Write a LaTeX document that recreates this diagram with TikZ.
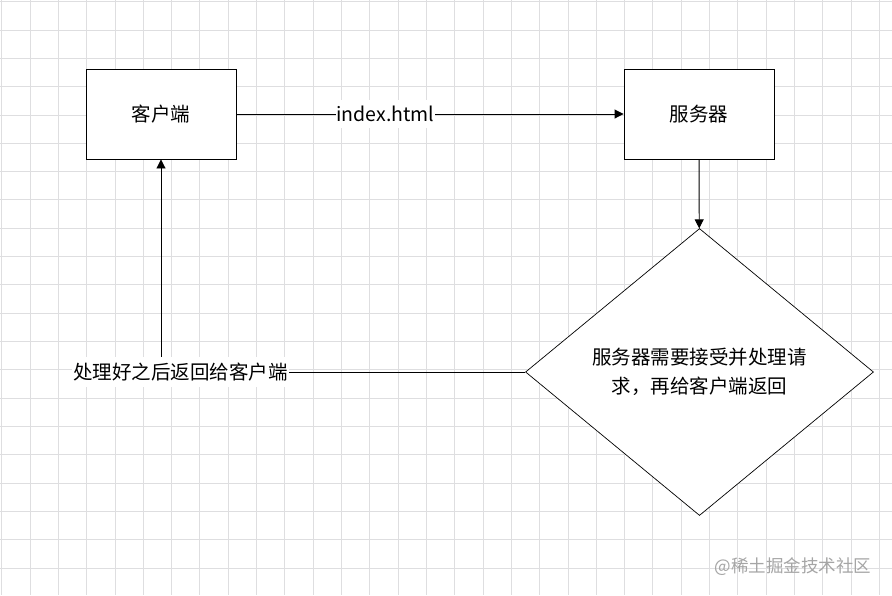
\documentclass[tikz,border=0pt]{standalone}
\usepackage{fontspec}
\newfontfamily\cjk{Noto Sans CJK SC}
\usetikzlibrary{arrows.meta,shapes.geometric}
\definecolor{GridGray}{RGB}{222,222,224}
\definecolor{MarkGray}{RGB}{165,165,165}

\begin{document}
\begin{tikzpicture}[x=1pt,y=-1pt,font=\cjk\fontsize{19.5}{28.5}\selectfont,
    box/.style={draw, fill=white, line width=0.9pt, minimum width=150pt, minimum height=90pt, inner sep=0pt},
    decision/.style={diamond, draw, fill=white, line width=0.7pt, minimum width=348pt, minimum height=287pt, inner sep=0pt, align=center},
    link/.style={line width=0.9pt, -{Triangle[length=9pt,width=9pt]}},
    edgelabel/.style={fill=white, inner xsep=1pt, inner ysep=6pt}]
  \def\gap{28.31}
  \useasboundingbox (0,0) rectangle (892,595);
  \fill[white] (0,0) rectangle (892,595);
  % background grid
  \foreach \i in {0,...,31} {
    \draw[GridGray, line width=0.8pt] (1.7+\i*\gap,0) -- (1.7+\i*\gap,595);
  }
  \foreach \j in {0,...,20} {
    \draw[GridGray, line width=0.8pt] (0,1.7+\j*\gap) -- (892,1.7+\j*\gap);
  }

  \node[box] (client) at (161,114) {客户端};
  \node[box] (server) at (699,114) {服务器};
  \node[decision] (handle) at (699.5,372) {服务器需要接受并处理请\\求，再给客户端返回};

  \draw[link] (client) -- node[edgelabel, pos=0.385] (req) {index.html} (server);
  \draw[link] (server) -- (handle);
  \draw[link] (handle.west) -| node[edgelabel, pos=0.473] (resp) {处理好之后返回给客户端} (client);

  \node[text=MarkGray, font=\cjk\fontsize{17.5}{20}\selectfont] (mark) at (793,567) {@稀土掘金技术社区};
\end{tikzpicture}
\end{document}
